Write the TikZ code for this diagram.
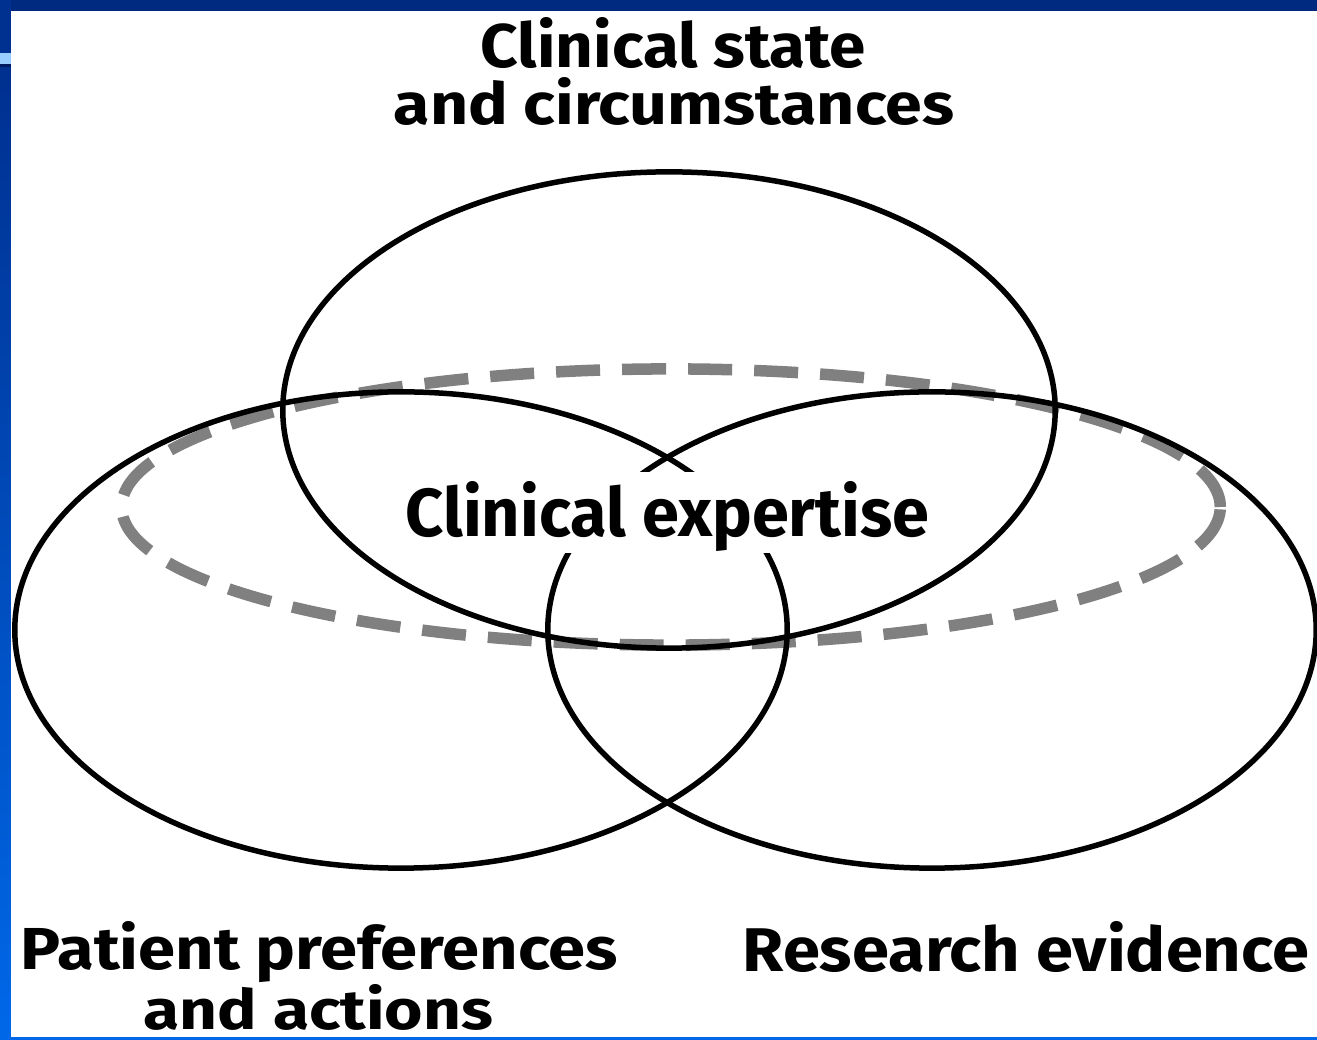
\documentclass[tikz,border=0pt]{standalone}
\usepackage{fontspec}
\setmainfont{Fira Sans}
\usepackage{graphicx}
\definecolor{navy}{HTML}{002A80}
\definecolor{navytwo}{HTML}{003090}
\definecolor{stripe}{HTML}{99CCFF}
\definecolor{stripedark}{HTML}{001A60}
\definecolor{brightblue}{HTML}{0068E8}
\definecolor{dashgray}{HTML}{808080}
\begin{document}
\begin{tikzpicture}[x=0.01cm,y=-0.01cm,
  ring/.style={draw=black,line width=0.055cm},
  dashring/.style={draw=dashgray,line width=0.115cm,dash pattern=on 0.44cm off 0.22cm},
  lbl/.style={inner sep=0pt,anchor=base west,font=\bfseries}]
\useasboundingbox (0,0) rectangle (1317,1040);
\fill[white] (0,0) rectangle (1317,1040);
% frame
\fill[navy] (0,0) rectangle (1317,11);
\fill[navytwo] (0,0) rectangle (11,53);
\fill[stripe] (0,53) rectangle (11,64);
\fill[stripedark] (0,64) rectangle (11,68);
\shade[top color=navytwo,bottom color=brightblue] (0,68) rectangle (11,1040);
% dashed ellipse
\draw[dashring] (671,507) ellipse [x radius=5.49cm,y radius=1.38cm];
% patient and research ellipses
\draw[ring] (401,630) ellipse [x radius=3.86cm,y radius=2.38cm];
\draw[ring] (932,630) ellipse [x radius=3.84cm,y radius=2.38cm];
% gap for the central label
\fill[white] (520,472) rectangle (820,553);
% clinical state ellipse
\draw[ring] (669,410) ellipse [x radius=3.86cm,y radius=2.38cm];
% labels
\node[lbl] (cs1) at (480,68) {\resizebox{3.85cm}{0.50cm}{Clinical state}};
\node[lbl] (cs2) at (393,125) {\resizebox{5.60cm}{0.47cm}{and circumstances}};
\node[lbl] (ce) at (405,537) {\resizebox{5.23cm}{0.55cm}{Clinical expertise}};
\node[lbl] (pp) at (20,970) {\rlap{\resizebox{5.97cm}{0.48cm}{Patient preferences}}\raisebox{-0.59cm}{\hspace*{1.23cm}\resizebox{3.49cm}{0.45cm}{and actions}}};
\node[lbl] (re) at (742,972) {\resizebox{5.66cm}{0.50cm}{Research evidence}};
\fill[brightblue] (0,1037) rectangle (1317,1040);
\end{tikzpicture}
\end{document}
